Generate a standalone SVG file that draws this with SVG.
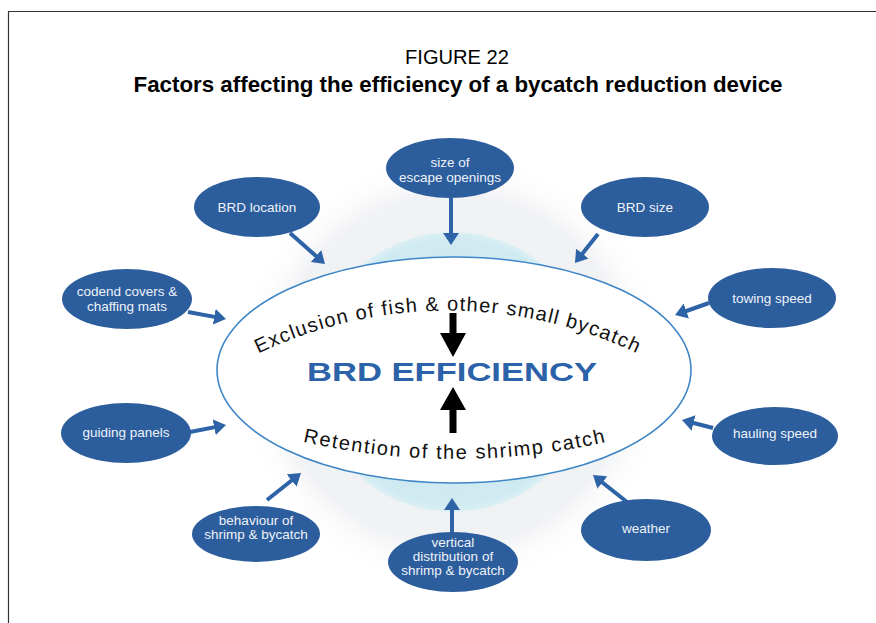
<svg xmlns="http://www.w3.org/2000/svg" width="876" height="623" viewBox="0 0 876 623">
<defs>
<style>
.node ellipse{fill:#2c5d9c;}
.node text{fill:#eef3fa;font-family:"Liberation Sans",Arial,sans-serif;font-size:13.5px;text-anchor:middle;}
.conn line{stroke:#2e64a7;stroke-width:4;marker-end:url(#ah);}
.curve{font-family:"Liberation Sans",Arial,sans-serif;fill:#111;}
</style>
<marker id="ah" markerUnits="userSpaceOnUse" viewBox="0 0 12 16" markerWidth="12" markerHeight="16" refX="6" refY="8" orient="auto">
<path d="M0,0 L12,8 L0,16 z" fill="#2e64a7"/>
</marker>
<radialGradient id="halo" cx="0.5" cy="0.5" r="0.5">
<stop offset="0" stop-color="#eceef1"/>
<stop offset="0.8" stop-color="#f1f2f4"/>
<stop offset="1" stop-color="#ffffff" stop-opacity="0"/>
</radialGradient>
<radialGradient id="lb" cx="0.5" cy="0.5" r="0.5">
<stop offset="0" stop-color="#cbe7f0"/>
<stop offset="0.95" stop-color="#d0eaf2"/>
<stop offset="1" stop-color="#dcf0f5"/>
</radialGradient>
<path id="arcTop" d="M238,364 A440,440 0 0 1 658,364"/>
<path id="arcBot" d="M280,436 A680,680 0 0 0 630,436"/>
</defs>
<rect width="876" height="623" fill="#ffffff"/>
<path d="M8.5,623 V11.5 H876" fill="none" stroke="#333" stroke-width="1.2"/>
<g id="title" font-family="Liberation Sans,Arial,sans-serif" text-anchor="middle" fill="#000">
<text x="457" y="64" font-size="21" textLength="104" lengthAdjust="spacingAndGlyphs">FIGURE 22</text>
<text x="458" y="92" font-size="22" font-weight="bold" textLength="649" lengthAdjust="spacingAndGlyphs">Factors affecting the efficiency of a bycatch reduction device</text>
</g>
<g id="background">
<circle cx="453" cy="370" r="218" fill="url(#halo)"/>
<circle cx="453" cy="372" r="140" fill="url(#lb)"/>
</g>
<g id="center">
<ellipse cx="454" cy="370" rx="237" ry="113" fill="#ffffff" stroke="#3f86c6" stroke-width="1.6"/>
<text class="curve" font-size="20" letter-spacing="1.3" text-anchor="middle"><textPath href="#arcTop" startOffset="50%">Exclusion of fish &amp; other small bycatch</textPath></text>
<text class="curve" font-size="20" letter-spacing="1.6" text-anchor="middle"><textPath href="#arcBot" startOffset="50%">Retention of the shrimp catch</textPath></text>
<text x="452" y="381" font-family="Liberation Sans,Arial,sans-serif" font-size="25" font-weight="900" fill="#2b62a8" text-anchor="middle" textLength="290" lengthAdjust="spacingAndGlyphs">BRD EFFICIENCY</text>
<polygon points="449.5,313 456.5,313 456.5,333 466,333 453,357 440,333 449.5,333" fill="#000"/>
<polygon points="453,387 466,410 456.5,410 456.5,433 449.5,433 449.5,410 440,410" fill="#000"/>
</g>
<g id="connectors" class="conn">
<line x1="290" y1="233" x2="320.5" y2="260"/>
<line x1="451" y1="198" x2="451" y2="239"/>
<line x1="598" y1="234" x2="578.7" y2="258.3"/>
<line x1="188" y1="312" x2="220.1" y2="317.9"/>
<line x1="190" y1="432" x2="220.1" y2="426.1"/>
<line x1="709" y1="303" x2="680.7" y2="313"/>
<line x1="713" y1="428" x2="687.8" y2="421.5"/>
<line x1="267" y1="500" x2="296.3" y2="476.7"/>
<line x1="452" y1="533" x2="452" y2="504"/>
<line x1="627" y1="502" x2="597.7" y2="478.7"/>
</g>
<g id="n-escape" class="node"><ellipse cx="450" cy="168" rx="64" ry="30"/><text x="450" y="167">size of</text><text x="450" y="182">escape openings</text></g>
<g id="n-location" class="node"><ellipse cx="257" cy="207" rx="63" ry="30"/><text x="257" y="212">BRD location</text></g>
<g id="n-size" class="node"><ellipse cx="645" cy="207" rx="64" ry="30"/><text x="645" y="212">BRD size</text></g>
<g id="n-codend" class="node"><ellipse cx="127" cy="299" rx="65" ry="30"/><text x="127" y="296">codend covers &amp;</text><text x="127" y="311">chaffing mats</text></g>
<g id="n-guiding" class="node"><ellipse cx="126" cy="433" rx="65" ry="30"/><text x="126" y="437">guiding panels</text></g>
<g id="n-towing" class="node"><ellipse cx="772" cy="298" rx="64" ry="30"/><text x="772" y="303">towing speed</text></g>
<g id="n-hauling" class="node"><ellipse cx="775" cy="436" rx="63" ry="29"/><text x="775" y="438">hauling speed</text></g>
<g id="n-behaviour" class="node"><ellipse cx="256" cy="534" rx="64" ry="28"/><text x="256" y="525">behaviour of</text><text x="256" y="539">shrimp &amp; bycatch</text></g>
<g id="n-vertical" class="node"><ellipse cx="453" cy="562" rx="65" ry="30"/><text x="453" y="547">vertical</text><text x="453" y="561">distribution of</text><text x="453" y="575">shrimp &amp; bycatch</text></g>
<g id="n-weather" class="node"><ellipse cx="646" cy="530" rx="65" ry="31"/><text x="646" y="533">weather</text></g>
</svg>
